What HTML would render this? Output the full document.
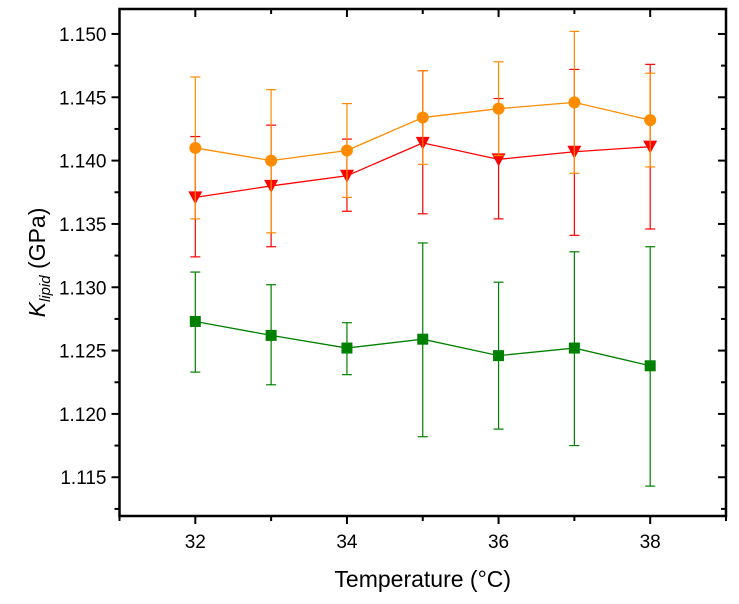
<!DOCTYPE html>
<html><head><meta charset="utf-8"><style>
body{margin:0;background:#fff;width:739px;height:599px;overflow:hidden}
svg{font-family:"Liberation Sans",Arial,sans-serif}
</style></head><body>
<svg id="chart" width="739" height="599" xmlns="http://www.w3.org/2000/svg"></svg>
<script>
const xValues=[32,33,34,35,36,37,38];
const orangeY=[1.1410,1.1400,1.1408,1.1434,1.1441,1.1446,1.1432];
const orangeLo=[1.1354,1.1343,1.1371,1.1397,1.1404,1.1390,1.1395];
const orangeHi=[1.1466,1.1456,1.1445,1.1471,1.1478,1.1502,1.1469];
const redY=[1.1371,1.1380,1.1388,1.1414,1.1401,1.1407,1.1411];
const redLo=[1.1324,1.1332,1.1360,1.1358,1.1354,1.1341,1.1346];
const redHi=[1.1419,1.1428,1.1417,1.1471,1.1449,1.1472,1.1476];
const greenY=[1.1273,1.1262,1.1252,1.1259,1.1246,1.1252,1.1238];
const greenLo=[1.1233,1.1223,1.1231,1.1182,1.1188,1.1175,1.1143];
const greenHi=[1.1312,1.1302,1.1272,1.1335,1.1304,1.1328,1.1332];
const yTicks=[1.115,1.120,1.125,1.130,1.135,1.140,1.145,1.150];
const yTickLabels=["1.115","1.120","1.125","1.130","1.135","1.140","1.145","1.150"];
const xTicks=[32,34,36,38];
const xTickLabels=["32","34","36","38"];

const L=119.5,R=726,T=9,B=516;
const X0=31,X1=39,Y0=1.11194,Y1=1.15197;
const sx=v=>L+(v-X0)/(X1-X0)*(R-L);
const sy=v=>B-(v-Y0)/(Y1-Y0)*(B-T);
const svg=document.getElementById('chart');
const NS='http://www.w3.org/2000/svg';
function mk(tag,attrs,parent){const e=document.createElementNS(NS,tag);for(const k in attrs)e.setAttribute(k,attrs[k]);(parent||svg).appendChild(e);return e;}

const axes=mk('g',{});


for(let v=31;v<=39.001;v+=1){
  const x=sx(v);const major=xTicks.includes(Math.round(v));
  mk('line',{x1:x,y1:B,x2:x,y2:B+(major?8:5),stroke:'#000','stroke-width':2},axes);
  if(v>31.5&&v<38.5)mk('line',{x1:x,y1:T,x2:x,y2:T+(major?8:5),stroke:'#000','stroke-width':2},axes);
}
for(let i=0;i<=16;i++){
  const v=1.1125+i*0.0025;const y=sy(v);if(y<T||y>B)continue;
  const major=i%2===1;
  mk('line',{x1:L,y1:y,x2:L-(major?8:5),y2:y,stroke:'#000','stroke-width':2},axes);
  mk('line',{x1:R,y1:y,x2:R-(major?8:5),y2:y,stroke:'#000','stroke-width':2},axes);
}
mk('rect',{x:L,y:T,width:R-L,height:B-T,fill:'none',stroke:'#000','stroke-width':2.5},axes);
xTicks.forEach((v,i)=>{const t=mk('text',{x:sx(v),y:B+32,'text-anchor':'middle','font-size':19},axes);t.textContent=xTickLabels[i];

});
yTicks.forEach((v,i)=>{const t=mk('text',{x:L-13,y:sy(v)+7,'text-anchor':'end','font-size':19},axes);t.textContent=yTickLabels[i];

});

function series(name,ys,lo,hi,color,shape){
  const g=mk('g',{});
  
  
  xValues.forEach((v,i)=>{const x=sx(v);
    mk('line',{x1:x,y1:sy(lo[i]),x2:x,y2:sy(hi[i]),stroke:color,'stroke-width':1.2},g);
    mk('line',{x1:x-5,y1:sy(lo[i]),x2:x+5,y2:sy(lo[i]),stroke:color,'stroke-width':1.2},g);
    mk('line',{x1:x-5,y1:sy(hi[i]),x2:x+5,y2:sy(hi[i]),stroke:color,'stroke-width':1.2},g);});
  mk('polyline',{points:xValues.map((v,i)=>sx(v)+','+sy(ys[i])).join(' '),fill:'none',stroke:color,'stroke-width':1.3},g);
  xValues.forEach((v,i)=>{const x=sx(v),y=sy(ys[i]);let m;
    if(shape==='circle')m=mk('circle',{cx:x,cy:y,r:6,fill:color},g);
    else if(shape==='tri')m=mk('polygon',{points:`${x-7},${y-6} ${x+7},${y-6} ${x},${y+7}`,fill:color},g);
    else m=mk('rect',{x:x-5.5,y:y-5.5,width:11,height:11,fill:color},g);
    
    });
}
series('green-series',greenY,greenLo,greenHi,'#008000','square');
series('red-series',redY,redLo,redHi,'#ff0000','tri');
series('orange-series',orangeY,orangeLo,orangeHi,'#ff8c00','circle');

const xt=mk('text',{x:(L+R)/2,y:587,'text-anchor':'middle','font-size':23});
xt.textContent='Temperature (°C)';


const yt=mk('text',{transform:`translate(45,${(T+B)/2}) rotate(-90)`,'text-anchor':'middle','font-size':23});
yt.innerHTML='<tspan font-style="italic">K</tspan><tspan font-style="italic" font-size="15" dy="5">lipid</tspan><tspan dy="-5"> (GPa)</tspan>';


</script>
</body></html>
